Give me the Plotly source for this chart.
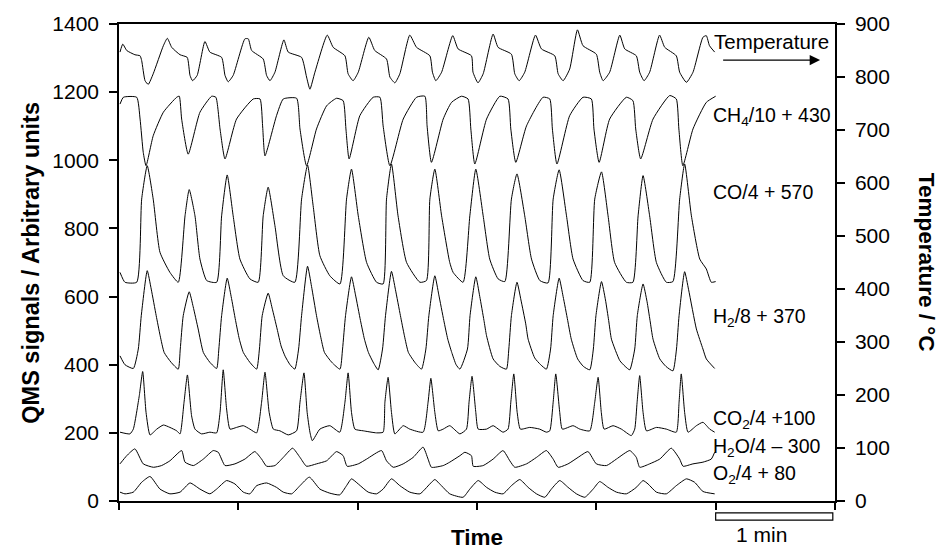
import plotly.graph_objects as go

# ---- data: (time in s, value) ----
TEMPERATURE = [(0.5,847),(1.9,862),(3.9,850),(8.0,842),(10.6,840),(11.4,831),(13.1,793),(14.7,786),(17.2,806),(22.3,859),(24.3,873),(26.5,856),(30.7,842),(34.3,837),(35.7,803),(37.0,793),(39.3,803),(43.2,867),(45.7,847),(51.6,837),(53.3,803),(54.9,791),(57.4,803),(63.3,872),(65.0,872),(66.7,850),(72.5,834),(74.2,803),(75.9,793),(78.4,809),(82.9,870),(85.1,847),(91.8,837),(94.3,800),(96.0,777),(98.5,809),(104.7,879),(107.7,856),(113.6,840),(115.2,806),(117.7,793),(120.3,809),(125.6,875),(128.6,850),(134.5,834),(136.2,800),(138.7,789),(141.2,806),(146.2,879),(149.6,856),(156.3,840),(157.6,809),(159.3,793),(162.2,809),(167.8,878),(170.5,853),(177.2,840),(178.0,809),(180.5,789),(183.1,806),(188.1,881),(190.6,856),(197.3,843),(199.0,806),(201.2,793),(204.0,809),(209.4,879),(212.4,853),(219.1,840),(220.8,806),(223.3,793),(226.6,815),(230.5,889),(233.3,859),(240.0,843),(241.7,809),(243.4,793),(246.7,809),(251.8,879),(254.3,853),(260.1,840),(261.8,809),(264.0,793),(266.8,809),(271.8,879),(274.4,856),(280.2,840),(281.9,809),(285.3,790),(288.6,809),(293.6,875),(295.3,878),(296.9,859),(299.5,847)]

CH4 = [(0.5,1165),(2.2,1185),(8.9,1185),(10.6,1121),(12.2,1023),(13.6,984),(17.2,1072),(22.3,1141),(29.0,1185),(30.3,1188),(31.5,1121),(34.8,1018),(40.7,1141),(46.6,1188),(48.7,1185),(50.8,1092),(53.3,1004),(59.1,1121),(67.5,1180),(70.9,1180),(72.2,1101),(73.4,1013),(79.2,1131),(82.6,1180),(89.3,1182),(91.0,1092),(94.3,984),(99.3,1092),(104.4,1160),(109.4,1182),(112.7,1175),(114.1,1092),(115.7,1004),(121.1,1131),(127.8,1185),(131.2,1185),(132.8,1101),(136.2,984),(142.9,1121),(149.6,1185),(153.8,1188),(154.9,1101),(157.1,994),(163.0,1121),(167.2,1170),(172.2,1188),(175.5,1180),(176.9,1092),(178.9,989),(184.8,1121),(191.5,1188),(195.6,1180),(197.0,1092),(199.5,994),(204.9,1101),(213.2,1185),(216.6,1180),(217.9,1092),(220.2,989),(226.6,1131),(233.3,1185),(237.5,1180),(238.8,1092),(241.4,994),(246.7,1121),(255.1,1185),(258.4,1175),(259.8,1092),(262.3,1004),(268.5,1121),(276.9,1190),(280.2,1180),(281.5,1092),(283.5,984),(288.6,1092),(295.3,1170),(300.0,1188)]

CO = [(0.5,671),(3.0,642),(8.9,642),(11.4,886),(14.2,984),(17.2,886),(20.6,730),(25.6,671),(29.8,642),(33.2,837),(35.3,914),(38.2,837),(40.7,710),(44.1,647),(49.1,642),(51.6,837),(54.4,957),(57.4,837),(60.8,710),(65.8,652),(70.0,642),(72.5,837),(75.0,921),(78.4,808),(82.6,661),(88.4,642),(91.8,886),(94.8,986),(97.6,867),(101.0,720),(106.0,661),(111.1,637),(114.4,886),(116.9,974),(120.3,837),(124.5,700),(129.5,642),(132.8,637),(134.5,886),(137.0,989),(140.3,837),(144.6,700),(151.3,642),(154.6,647),(156.3,886),(158.8,974),(162.2,837),(166.3,700),(168.0,671),(173.0,642),(176.4,837),(179.4,974),(183.1,837),(186.4,710),(190.6,652),(194.0,644),(197.3,886),(200.1,960),(204.0,837),(207.4,710),(211.6,647),(215.7,640),(218.3,886),(221.3,972),(225.0,837),(228.3,710),(233.3,647),(236.7,642),(239.2,886),(242.6,966),(245.9,837),(249.2,700),(255.1,642),(258.4,642),(261.0,837),(263.5,955),(266.8,837),(270.2,700),(275.2,642),(278.5,644),(281.9,886),(284.4,989),(287.8,837),(292.0,710),(295.3,681),(297.8,642),(300.0,644)]

H2 = [(0.5,426),(3.0,400),(7.2,389),
      (9.7,446),(11.2,544),(14.2,676),(16.2,622),(18.7,544),(20.7,485),(22.7,436),(26.2,407),(29.8,387),
      (30.8,446),(32.3,544),(35.3,614),(37.3,570),(39.8,505),(42.4,436),(45.7,407),(49.1,389),
      (50.2,446),(51.6,544),(54.4,654),(56.4,600),(58.6,530),(60.5,475),(62.5,436),(65.8,407),(69.2,387),
      (70.6,446),(72.0,544),(75.0,610),(77.0,566),(79.5,505),(81.5,455),(83.5,425),(86.0,400),(88.4,387),
      (90.3,446),(91.8,544),(94.8,689),(96.8,630),(99.3,544),(101.3,485),(103.3,436),(107.0,407),(111.1,387),
      (112.4,446),(113.9,544),(116.9,658),(118.9,605),(121.4,530),(123.4,475),(125.4,436),(128.0,405),(130.3,385),
      (132.5,446),(134.0,544),(137.0,674),(139.0,620),(141.5,544),(143.5,485),(145.5,436),(149.0,405),(152.1,387),
      (154.3,446),(155.8,544),(158.8,661),(160.8,605),(163.3,530),(165.3,475),(167.3,436),(169.5,400),(171.4,387),
      (175.2,446),(176.5,544),(179.4,658),(181.4,600),(183.5,530),(184.8,485),(188.1,417),(191.5,395),(194.8,387),
      (196.0,446),(197.3,544),(200.1,642),(202.1,590),(204.5,520),(205.7,475),(209.0,420),(212.0,400),(214.9,387),
      (217.0,446),(218.3,544),(221.3,654),(223.3,600),(225.6,530),(227.4,475),(230.6,417),(233.5,395),(236.7,385),
      (238.5,446),(239.8,544),(242.6,644),(244.6,590),(246.2,530),(247.6,475),(251.8,412),(254.5,395),(256.8,385),
      (259.3,446),(260.6,544),(263.5,637),(265.5,585),(267.0,530),(268.5,475),(271.9,417),(275.0,395),(278.5,382),
      (280.3,446),(281.6,544),(284.4,673),(286.4,620),(290.3,505),(293.6,446),(295.3,417),(299.5,389)]

CO2 = [(0.5,202),(5.5,197),(7.2,211),(10.2,309),(11.9,380),(13.6,260),(15.6,194),(19.0,211),(22.3,223),(25.6,216),(29.0,206),(30.7,197),(32.7,290),(34.4,370),(36.5,250),(38.2,211),(41.5,197),(45.7,202),(49.1,200),(50.8,260),(52.4,385),(54.1,270),(55.8,211),(59.1,216),(62.5,221),(65.8,211),(69.2,200),(71.7,290),(73.4,378),(75.5,260),(77.6,211),(80.9,206),(85.1,194),(89.3,206),(91.0,290),(93.0,376),(94.6,260),(96.0,202),(97.2,177),(101.0,211),(106.0,221),(111.0,202),(113.6,290),(115.2,376),(116.9,260),(118.6,211),(122.8,206),(129.5,200),(132.8,202),(133.7,290),(135.3,363),(137.0,260),(138.7,197),(142.9,221),(146.2,211),(152.9,202),(155.4,290),(156.8,360),(158.8,260),(160.5,206),(163.0,211),(166.3,221),(171.4,197),(174.7,211),(176.0,290),(177.5,366),(179.4,260),(180.6,211),(184.8,211),(188.1,221),(193.1,202),(195.6,211),(197.0,290),(198.5,373),(200.2,260),(201.8,211),(206.5,216),(211.5,211),(214.9,202),(216.6,206),(218.3,290),(219.6,373),(221.6,260),(222.9,211),(228.3,221),(231.7,211),(236.7,206),(239.2,290),(240.9,363),(242.5,260),(243.9,211),(248.4,221),(252.6,211),(257.6,192),(259.3,211),(260.5,290),(261.8,368),(263.5,260),(265.2,206),(270.2,216),(275.2,211),(280.2,202),(281.6,290),(282.7,373),(284.4,260),(286.1,202),(290.3,221),(293.6,231),(297.0,211),(299.5,202)]

H2O = [(0.5,109),(3.9,133),(8.0,153),(12.2,109),(17.3,99),(21.4,104),(25.6,118),(31.5,148),(33.2,114),(37.4,104),(42.4,123),(47.4,148),(49.9,143),(53.3,104),(58.3,109),(63.3,123),(68.3,145),(71.7,123),(74.2,102),(78.4,104),(82.6,128),(87.3,155),(91.0,128),(94.3,102),(99.3,109),(104.4,118),(109.4,145),(112.7,133),(114.7,102),(120.3,109),(124.5,123),(132.0,148),(134.5,118),(137.9,99),(142.9,109),(147.9,128),(152.9,158),(155.4,123),(157.1,99),(163.0,104),(166.3,114),(171.4,133),(173.9,143),(177.2,133),(178.1,102),(183.1,104),(188.1,123),(193.1,148),(196.5,118),(199.0,99),(204.9,109),(209.9,128),(214.9,148),(218.3,123),(220.8,99),(225.8,109),(230.8,128),(235.8,145),(240.0,109),(245.1,104),(250.1,123),(256.8,148),(260.1,128),(261.8,99),(266.8,109),(271.9,123),(277.7,155),(281.9,123),(283.6,102),(288.6,109),(293.6,114),(297.8,123),(299.5,143)]

O2 = [(0.5,26),(3.0,21),(7.2,26),(11.4,55),(15.6,72),(20.6,35),(25.6,21),(30.7,26),(35.7,53),(40.7,35),(45.7,21),(49.1,35),(54.1,60),(58.3,50),(62.5,26),(65.8,21),(69.2,45),(74.2,53),(79.2,40),(82.6,26),(86.8,21),(91.0,45),(95.7,70),(101.0,35),(106.0,23),(111.0,18),(114.4,45),(116.9,65),(120.3,50),(125.3,26),(129.5,21),(132.8,35),(137.0,65),(141.2,45),(146.2,26),(151.3,21),(156.3,50),(158.8,63),(162.1,45),(166.3,21),(173.0,11),(176.4,35),(180.6,60),(184.8,40),(188.9,26),(193.1,21),(197.3,45),(201.5,63),(205.7,40),(209.9,21),(214.1,11),(217.4,35),(221.6,60),(225.8,40),(230.0,21),(234.2,11),(238.4,35),(241.7,57),(245.9,40),(250.1,26),(255.1,21),(260.1,40),(263.5,60),(266.0,50),(270.2,26),(275.2,21),(280.2,45),(285.3,65),(289.4,55),(293.6,28),(299.5,21)]

X_TICKS = [0, 60, 120, 180, 240, 300, 360]
LABELS = [("CH<sub>4</sub>/10 + 430", 1128),
          ("CO/4 + 570", 906),
          ("H<sub>2</sub>/8 + 370", 540),
          ("CO<sub>2</sub>/4 +100", 240),
          ("H<sub>2</sub>O/4 \u2013 300", 158),
          ("O<sub>2</sub>/4 + 80", 78)]

FONT = "Liberation Sans, Arial, Helvetica, sans-serif"

fig = go.Figure()

def add(series, axis="y"):
    xs = [p[0] for p in series]
    ys = [p[1] for p in series]
    fig.add_trace(go.Scatter(x=xs, y=ys, mode="lines", yaxis=axis,
                             line=dict(color="black", width=1, shape="spline", smoothing=0.5),
                             showlegend=False, hoverinfo="skip"))

for s in (CH4, CO, H2, CO2, H2O, O2):
    add(s)
add(TEMPERATURE, "y2")

axis_common = dict(showline=True, linecolor="black", linewidth=1.5, showgrid=False,
                   zeroline=False, ticks="outside", tickcolor="black", tickwidth=1.5)

fig.update_layout(
    width=938, height=552, autosize=False,
    margin=dict(l=119, r=103, t=24, b=51),
    paper_bgcolor="white", plot_bgcolor="white",
    font=dict(family=FONT, color="black", size=20),
    xaxis=dict(range=[0, 360], tickvals=X_TICKS, showticklabels=False, ticklen=7,
               mirror=True, **axis_common),
    yaxis=dict(range=[0, 1400], dtick=200, ticklen=8, ticklabelstandoff=6,
               tickfont=dict(size=21), **axis_common),
    yaxis2=dict(range=[0, 900], dtick=100, ticklen=8, ticklabelstandoff=6, overlaying="y",
                side="right", tickfont=dict(size=21), **axis_common),
)

ann = []
ann.append(dict(text="<b>QMS signals / Arbitrary units</b>", xref="paper", yref="paper",
                x=-0.124, y=0.5, textangle=-90, showarrow=False, xanchor="center",
                yanchor="middle", font=dict(size=23.5)))
ann.append(dict(text="<b>Temperature / \u00b0C</b>", xref="paper", yref="paper",
                x=1.128, y=0.5, textangle=90, showarrow=False, xanchor="center",
                yanchor="middle", font=dict(size=22.5)))
ann.append(dict(text="<b>Time</b>", xref="paper", yref="paper", x=0.5, y=-0.077,
                showarrow=False, xanchor="center", yanchor="middle", font=dict(size=22.5)))
ann.append(dict(text="1 min", xref="x", yref="paper", x=323, y=-0.071,
                showarrow=False, xanchor="center", yanchor="middle", font=dict(size=21)))
ann.append(dict(text="Temperature", xref="x", yref="y", x=298.0, y=1349,
                showarrow=False, xanchor="left", yanchor="middle", font=dict(size=20.5)))
ann.append(dict(text="", xref="x", yref="y", x=352.5, y=1294, ax=303, ay=1294,
                axref="x", ayref="y", showarrow=True, arrowhead=2, arrowsize=1.6,
                arrowwidth=1.3, arrowcolor="black"))
for txt, yv in LABELS:
    ann.append(dict(text=txt, xref="x", yref="y", x=297.5, y=yv, showarrow=False,
                    xanchor="left", yanchor="middle", font=dict(size=19.5)))
fig.update_layout(annotations=ann)

fig.add_shape(type="rect", xref="x", yref="paper", x0=300, x1=358.9, y0=-0.0247, y1=-0.0403,
              line=dict(color="black", width=1.2), fillcolor="white")

fig.write_html("out.html", config={"displayModeBar": False},
               post_script="document.body.style.margin='0px';")
